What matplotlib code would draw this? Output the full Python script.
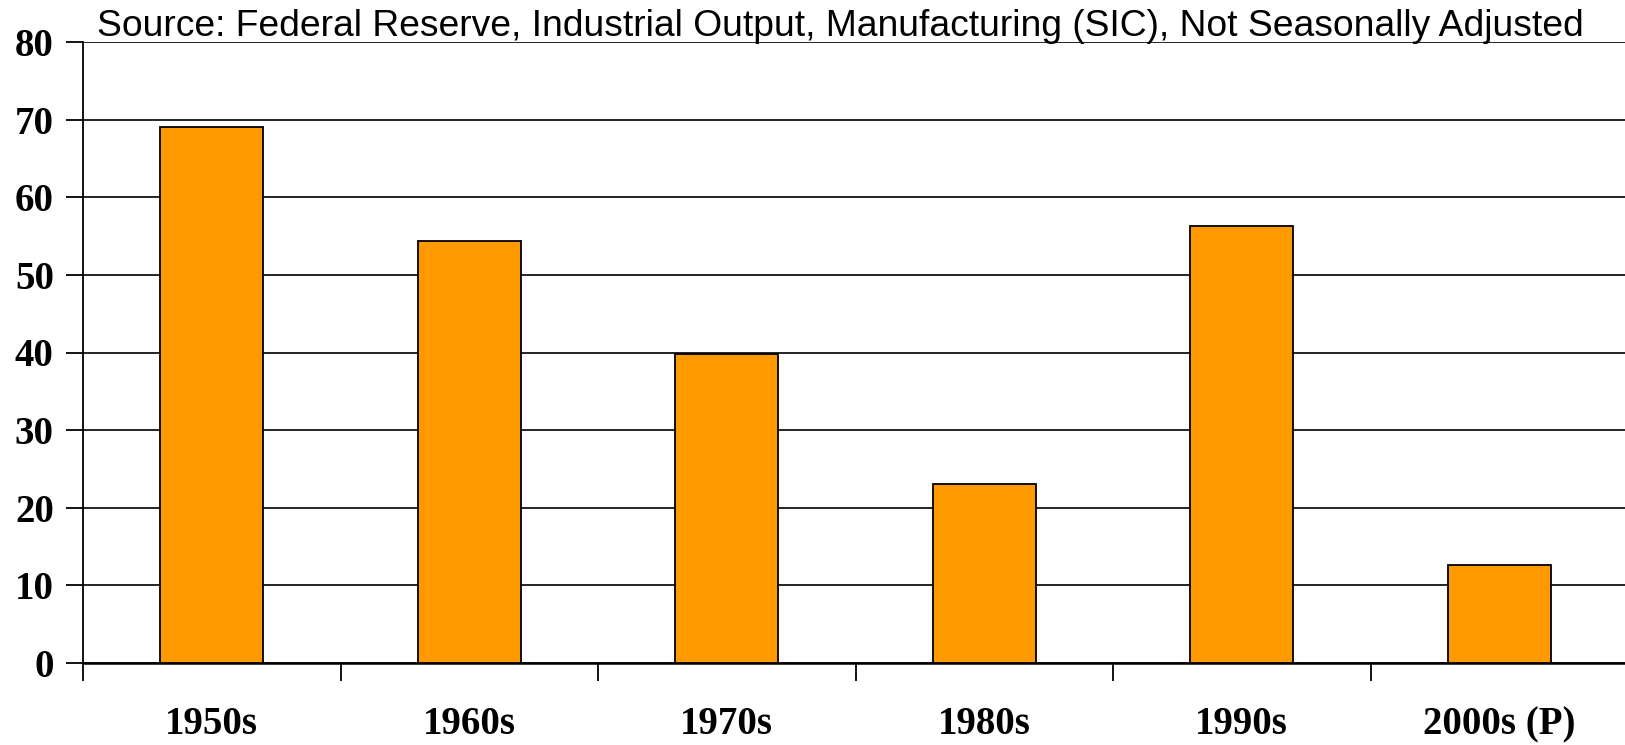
import matplotlib.pyplot as plt

decades = ["1950s", "1960s", "1970s", "1980s", "1990s", "2000s (P)"]
growth = [69.0, 54.4, 39.8, 23.1, 56.3, 12.6]
y_ticks = [0, 10, 20, 30, 40, 50, 60, 70, 80]

fig = plt.figure(figsize=(16.25, 7.45), dpi=100)
# axes placed in pixels: left 83, right ~1628, top 42, bottom 663
ax = fig.add_axes([83 / 1625, (745 - 663) / 745, 1545 / 1625, (663 - 42) / 745])

x = range(len(decades))
ax.bar(x, growth, width=0.4, color="#FF9900", edgecolor="black", linewidth=1.3, zorder=3)

ax.set_xlim(-0.5, len(decades) - 0.5)
ax.set_ylim(0, 80)
ax.set_yticks(y_ticks)
ax.yaxis.grid(True, color="black", linewidth=1.2, zorder=0)

ax.set_xticks([i - 0.5 for i in x])
ax.set_xticklabels([])
ax.set_xticks(list(x), minor=True)
ax.set_xticklabels(decades, minor=True)
ax.tick_params(axis="x", which="major", length=13, width=1.3, direction="out")
ax.tick_params(axis="x", which="minor", length=0, pad=31)
ax.tick_params(axis="y", length=12, width=1.3, pad=9)

for lbl in ax.get_yticklabels() + ax.get_xticklabels(minor=True):
    lbl.set_fontfamily("Liberation Serif")
    lbl.set_fontweight("bold")
    lbl.set_fontsize(28)

for side in ["top", "right"]:
    ax.spines[side].set_visible(False)
ax.spines["left"].set_linewidth(1.3)
ax.spines["bottom"].set_linewidth(1.8)

fig.text(840 / 1625, 1 - 36 / 745, "Source: Federal Reserve, Industrial Output, Manufacturing (SIC), Not Seasonally Adjusted",
         ha="center", va="baseline", fontsize=26.8, family="Liberation Sans")

fig.savefig("out.png", dpi=100)
